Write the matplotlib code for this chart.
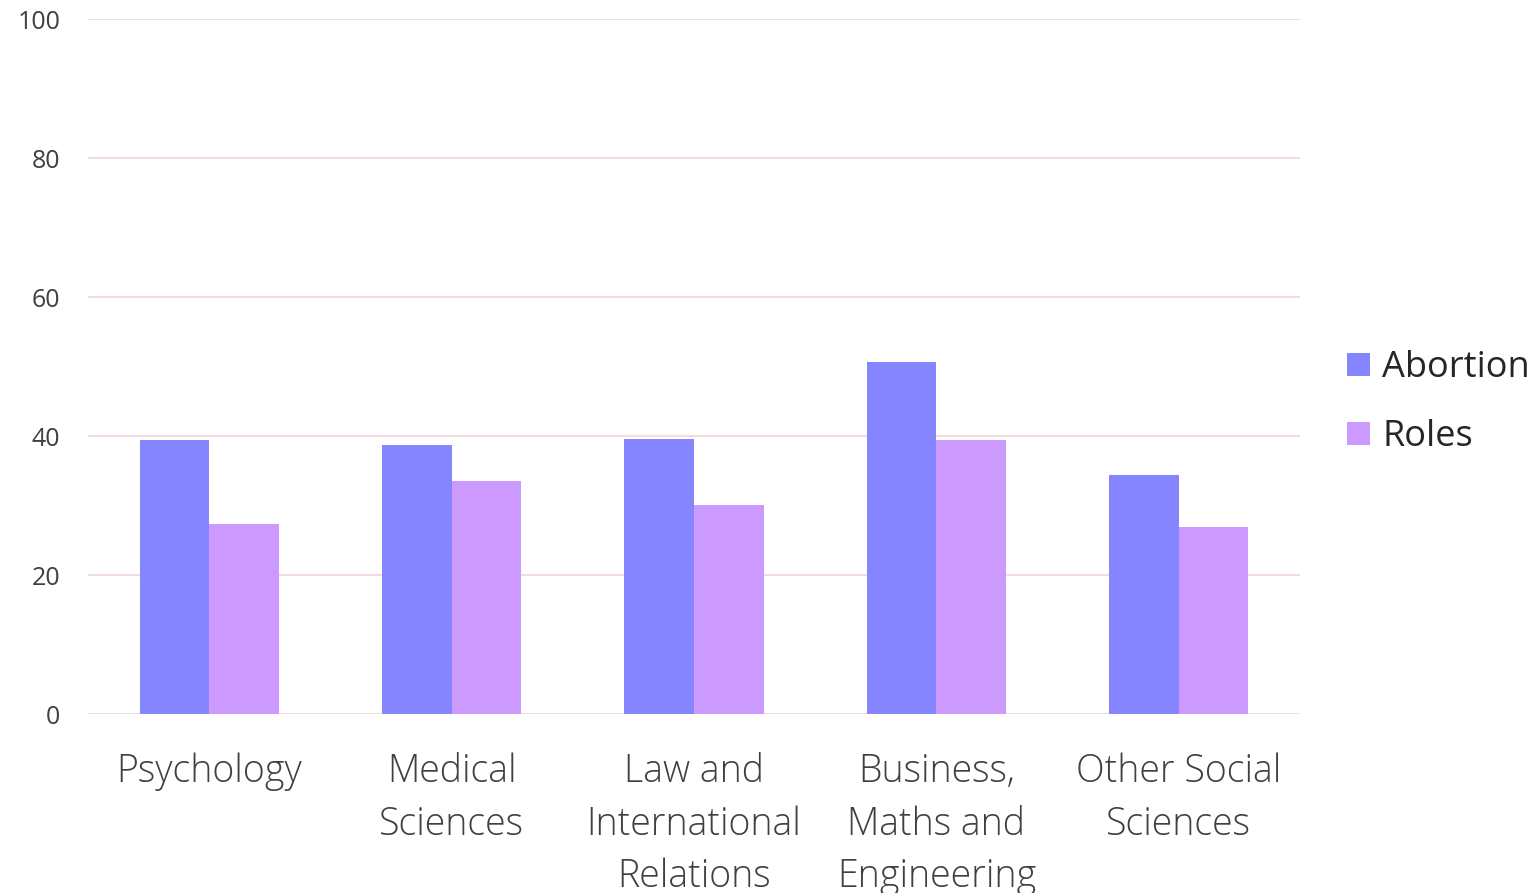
import numpy as np
import matplotlib
matplotlib.use('Agg')
import matplotlib.pyplot as plt

plt.rcParams['font.family'] = ['Open Sans', 'DejaVu Sans']

# 데이터
categories = ['Psychology', 'Medical\nSciences', 'Law and\nInternational\nRelations',
              'Business,\nMaths and\nEngineering', 'Other Social\nSciences']
abortion = [39.4, 38.7, 39.6, 50.6, 34.4]
roles = [27.3, 33.5, 30.1, 39.4, 26.9]
y_ticks = [0, 20, 40, 60, 80, 100]

fig = plt.figure(figsize=(15.39, 8.93), dpi=100)
ax = fig.add_axes([0.0572, 0.2004, 0.7875, 0.7783])

x = np.arange(len(categories))
w = 0.287
ax.bar(x - w / 2, abortion, width=w, color='#8585FF', label='Abortion', zorder=3)
ax.bar(x + w / 2, roles, width=w, color='#CC99FF', label='Roles', zorder=3)

ax.set_xlim(-0.5, len(categories) - 0.5)
ax.set_ylim(0, 100)
ax.set_yticks(y_ticks)
ax.set_xticks(x)
ax.set_xticklabels(categories, fontsize=27, fontweight='light', color='#404040',
                   linespacing=1.47, va='top')
ax.tick_params(axis='x', length=0, pad=28)
ax.tick_params(axis='y', length=0, pad=20, labelsize=18, labelcolor='#404040')

ax.grid(axis='y', color='#F2DCE0', linewidth=1.5, zorder=0)
for s in ax.spines.values():
    s.set_visible(False)

leg = ax.legend(loc='center left', bbox_to_anchor=(1.027, 0.448), frameon=False,
                fontsize=26, handlelength=0.62, handleheight=0.62,
                handletextpad=0.35, labelspacing=0.9, borderaxespad=0)
for t in leg.get_texts():
    t.set_color('#262626')

fig.savefig('out.png', dpi=100)
